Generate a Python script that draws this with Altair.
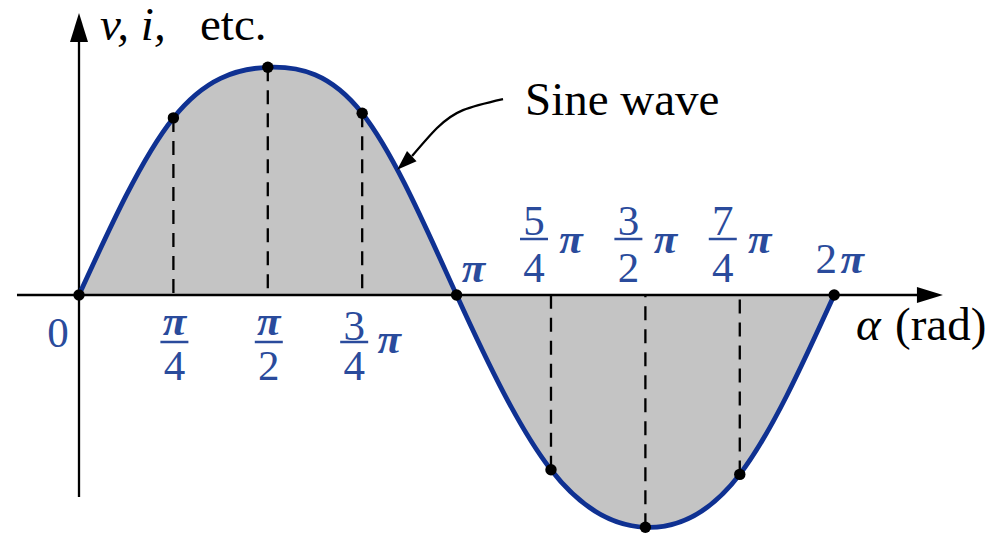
import altair as alt
import numpy as np
import pandas as pd

PI = np.pi

# ---------------- data ----------------
tick_angles = [0.0, PI / 4, PI / 2, 3 * PI / 4, PI, 5 * PI / 4, 3 * PI / 2, 7 * PI / 4, 2 * PI]
curve_values = [0.0, 0.77, 0.99, 0.79, 0.0, -0.76, -1.01, -0.78, 0.0]

frac_angles = [PI / 4, PI / 2, 3 * PI / 4, 5 * PI / 4, 3 * PI / 2, 7 * PI / 4]
frac_num = ["π", "π", "3", "5", "3", "7"]
frac_den = ["4", "2", "4", "4", "2", "4"]
frac_suffix = ["", "", "π", "π", "π", "π"]
frac_side = ["below", "below", "below", "above", "above", "above"]

# curved pointer from the "Sine wave" caption to the curve (angle, value)
pointer_x = [3.528, 3.195, 2.979, 2.771]
pointer_y = [0.852, 0.804, 0.726, 0.604]
pointer_head = (2.708, 0.574)

axis_x_extent = (-0.516, 7.08)
axis_y_extent = (-0.878, 1.163)

y_label_italic = "v, i,"
y_label_plain = "etc."
x_label_italic = "α"
x_label_plain = "(rad)"
caption = "Sine wave"

# ---------------- layout ----------------
W, H = 991, 529
PX_PER_RAD = 120.19
X0_PX = 71
Y0_PX = 287
PX_PER_UNIT = 230.0
X_MIN = -X0_PX / PX_PER_RAD
X_MAX = X_MIN + W / PX_PER_RAD
Y_MAX = Y0_PX / PX_PER_UNIT
Y_MIN = Y_MAX - H / PX_PER_UNIT

XS = alt.Scale(domain=[X_MIN, X_MAX], nice=False, zero=False)
YS = alt.Scale(domain=[Y_MIN, Y_MAX], nice=False, zero=False)

BLUE_LINE = "#0f3192"
BLUE_TEXT = "#2a4b9c"
GRAY = "#c4c4c4"
FONT = "Liberation Serif"
LBL = 43
TXT = 47


def ex(f):
    return alt.X(f"{f}:Q", scale=XS, axis=None)


def ey(f):
    return alt.Y(f"{f}:Q", scale=YS, axis=None)


def exd(v):
    return alt.XDatum(v, type="quantitative", scale=XS, axis=None)


def eyd(v):
    return alt.YDatum(v, type="quantitative", scale=YS, axis=None)


curve = pd.DataFrame({"a": tick_angles, "v": curve_values})
fr = pd.DataFrame({"a": frac_angles, "num": frac_num, "den": frac_den,
                   "suf": frac_suffix, "side": frac_side})
pointer = pd.DataFrame({"a": pointer_x, "v": pointer_y, "i": list(range(len(pointer_x)))})
one = pd.DataFrame({"k": [0]})

area = alt.Chart(curve).mark_area(interpolate="natural", color=GRAY, opacity=1).encode(
    x=ex("a"), y=ey("v"), y2=alt.datum(0))

dashes = alt.Chart(curve).transform_filter("datum.v != 0").mark_rule(
    color="black", strokeWidth=2.3, strokeDash=[14, 9]).encode(
    x=ex("a"), y=ey("v"), y2=alt.datum(0))

x_axis = alt.Chart(one).mark_rule(color="black", strokeWidth=2.3).encode(
    x=exd(axis_x_extent[0]), x2=alt.datum(axis_x_extent[1]), y=eyd(0))
y_axis = alt.Chart(one).mark_rule(color="black", strokeWidth=2.3).encode(
    x=exd(0), y=eyd(axis_y_extent[0]), y2=alt.datum(axis_y_extent[1]))

x_head = alt.Chart(one).mark_point(
    shape="M1,0L-1,-0.62L-1,0.62Z", filled=True, size=676, color="black", opacity=1).encode(
    x=exd(axis_x_extent[1]), y=eyd(0))
y_head = alt.Chart(one).mark_point(
    shape="M0,-1L0.62,1L-0.62,1Z", filled=True, size=841, color="black", opacity=1).encode(
    x=exd(0), y=eyd(axis_y_extent[1]))

line = alt.Chart(curve).mark_line(interpolate="natural", color=BLUE_LINE, strokeWidth=4.8).encode(
    x=ex("a"), y=ey("v"))

dots = alt.Chart(curve).mark_circle(size=130, color="black", opacity=1).encode(
    x=ex("a"), y=ey("v"))

ptr_line = alt.Chart(pointer).mark_line(interpolate="natural", color="black", strokeWidth=2.3).encode(
    x=ex("a"), y=ey("v"), order=alt.Order("i:Q"))
ptr_head = alt.Chart(one).mark_point(
    shape="M0,-1L0.7,1L-0.7,1Z", filled=True, size=400, angle=227, color="black", opacity=1).encode(
    x=exd(pointer_head[0]), y=eyd(pointer_head[1]))


def txt(data, field, dx, dy, italic=False, size=LBL, color=BLUE_TEXT, filt=None):
    kw = dict(dx=dx, dy=dy, align="center", baseline="alphabetic", font=FONT,
              fontSize=size, color=color)
    if italic:
        kw["fontStyle"] = "italic"
        kw["fontWeight"] = "bold"
    c = alt.Chart(data)
    if filt:
        c = c.transform_filter(filt)
    return c.mark_text(**kw).encode(x=ex("a"), y=eyd(0), text=f"{field}:N")


def bar(data, dx, dy, filt):
    return alt.Chart(data).transform_filter(filt).mark_rule(
        color=BLUE_TEXT, strokeWidth=2.5, xOffset=dx - 14, x2Offset=dx + 14, yOffset=dy).encode(
        x=ex("a"), x2="a:Q", y=eyd(0))


f_below_plain = "datum.side == 'below' && datum.suf == ''"
f_below_mix = "datum.side == 'below' && datum.suf != ''"
f_above = "datum.side == 'above'"

labels = [
    # below, pure fractions (π/4, π/2)
    txt(fr, "num", 1, 40, italic=True, filt=f_below_plain),
    bar(fr, 1, 47, f_below_plain),
    txt(fr, "den", 1, 85, filt=f_below_plain),
    # below, mixed (3/4 π)
    txt(fr, "num", -8, 45, filt=f_below_mix),
    bar(fr, -8, 47, f_below_mix),
    txt(fr, "den", -8, 85, filt=f_below_mix),
    txt(fr, "suf", 27, 58, italic=True, filt=f_below_mix),
    # above (5/4 π, 3/2 π, 7/4 π)
    txt(fr, "num", -17, -60, filt=f_above),
    bar(fr, -17, -56, f_above),
    txt(fr, "den", -17, -13, filt=f_above),
    txt(fr, "suf", 20, -42, italic=True, filt=f_above),
]

plain = pd.DataFrame({"a": [0.0, PI, 2 * PI, 2 * PI], "t": ["0", "π", "2", "π"]})
labels += [
    txt(plain, "t", -21, 52, filt="datum.a == 0"),
    txt(plain, "t", 17, -13, italic=True, filt="datum.a > 3 && datum.a < 4"),
    txt(plain, "t", -8, -22, filt="datum.t == '2'"),
    txt(plain, "t", 18, -22, italic=True, filt="datum.a > 6 && datum.t == 'π'"),
]


def free(text, x, y, italic=False):
    kw = dict(text=text, align="left", baseline="alphabetic", font=FONT, fontSize=TXT, color="black")
    if italic:
        kw["fontStyle"] = "italic"
    return alt.Chart(one).mark_text(**kw).encode(x=alt.value(x), y=alt.value(y))


texts = [
    free(y_label_italic, 92, 32, italic=True),
    free(y_label_plain, 192, 32),
    free(caption, 517, 107),
    free(x_label_italic, 848, 332, italic=True),
    free(x_label_plain, 887, 332),
]

chart = alt.layer(
    area, dashes, x_axis, y_axis, x_head, y_head, line, dots, ptr_line, ptr_head,
    *labels, *texts
).properties(
    width=W, height=H, padding=0, autosize=alt.AutoSizeParams(type="none"), background="white"
).configure_view(strokeWidth=0)

chart.save("out.html", embed_options={"renderer": "svg", "actions": False})
